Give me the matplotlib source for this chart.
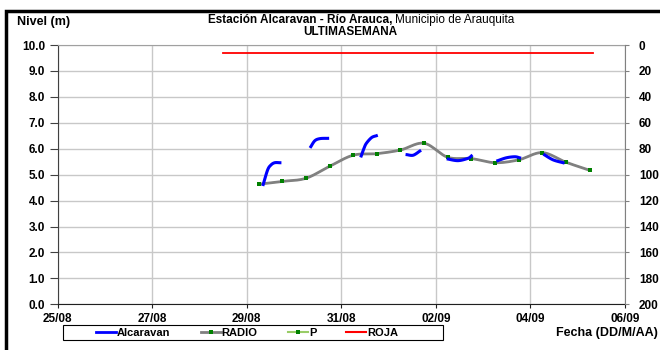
import numpy as np
import pandas as pd
import matplotlib
matplotlib.use("Agg")
import matplotlib.pyplot as plt
import matplotlib.dates as mdates
from matplotlib.lines import Line2D
from matplotlib.patches import Rectangle

plt.rcParams["font.family"] = ["Liberation Sans", "DejaVu Sans"]

# RADIO / P readings, every 12 h
RADIO_TIMES = pd.date_range("2011-08-29 06:00", periods=15, freq="12h")
RADIO_VALUES = [4.63, 4.74, 4.86, 5.32, 5.75, 5.81, 5.95, 6.21,
                5.67, 5.62, 5.46, 5.57, 5.85, 5.48, 5.17]
P_VALUES = RADIO_VALUES

# Alcaravan station: short pieces, None separates them
ALC_TIMES = [
    "2011-08-29 08:20", "2011-08-29 10:34", "2011-08-29 12:14", "2011-08-29 14:10", "2011-08-29 16:48", None,
    "2011-08-30 08:31", "2011-08-30 10:34", "2011-08-30 13:12", "2011-08-30 17:02", None,
    "2011-08-31 10:05", "2011-08-31 11:31", "2011-08-31 12:43", "2011-08-31 15:22", "2011-08-31 17:46", None,
    "2011-09-01 09:22", "2011-09-01 12:29", "2011-09-01 15:50", None,
    "2011-09-02 06:14", "2011-09-02 11:17", "2011-09-02 16:19", "2011-09-02 18:00", None,
    "2011-09-03 07:26", "2011-09-03 11:46", "2011-09-03 16:05", "2011-09-03 18:29", None,
    "2011-09-04 07:12", "2011-09-04 11:31", "2011-09-04 16:34",
]
ALC_VALUES = [
    4.62, 5.18, 5.37, 5.46, 5.46, None,
    6.08, 6.31, 6.39, 6.40, None,
    5.72, 6.02, 6.21, 6.43, 6.50, None,
    5.77, 5.75, 5.91, None,
    5.60, 5.54, 5.63, 5.72, None,
    5.54, 5.65, 5.69, 5.65, None,
    5.76, 5.57, 5.46,
]

# alert level (ROJA)
ROJA_TIMES = ["2011-08-28 12:00", "2011-09-05 08:00"]
ROJA_VALUES = [9.68, 9.68]

X_TICKS = pd.date_range("2011-08-25", "2011-09-06", freq="2D")
Y_TICKS = np.arange(0, 10.01, 1.0)
Y2_TICKS = np.arange(0, 201, 20)


def smooth(x, y, n=25):
    # Excel-like smoothed line (bezier through the points)
    pts = np.column_stack([x, y]).astype(float)
    if len(pts) < 3:
        return pts[:, 0], pts[:, 1]
    out = []
    for i in range(len(pts) - 1):
        p0 = pts[i - 1] if i > 0 else pts[i]
        p1, p2 = pts[i], pts[i + 1]
        p3 = pts[i + 2] if i + 2 < len(pts) else pts[i + 1]
        c1 = p1 + (p2 - p0) / 6
        c2 = p2 - (p3 - p1) / 6
        t = np.linspace(0, 1, n)[:, None]
        out.append((1 - t) ** 3 * p1 + 3 * (1 - t) ** 2 * t * c1
                   + 3 * (1 - t) * t ** 2 * c2 + t ** 3 * p2)
    out = np.vstack(out)
    return out[:, 0], out[:, 1]


def segments(times, values):
    seg_t, seg_v = [], []
    for t, v in zip(times, values):
        if t is None:
            yield seg_t, seg_v
            seg_t, seg_v = [], []
        else:
            seg_t.append(mdates.date2num(pd.Timestamp(t)))
            seg_v.append(v)
    if seg_t:
        yield seg_t, seg_v


fig = plt.figure(figsize=(6.6, 3.5), dpi=100)
ax = fig.add_axes([57.7 / 660, 1 - 304.3 / 350, (625 - 57.7) / 660, (304.3 - 45) / 350])

xr = mdates.date2num(RADIO_TIMES)
sx, sy = smooth(xr, P_VALUES)
ax.plot(sx, sy, color="#99cc66", lw=1, zorder=2)
sx, sy = smooth(xr, RADIO_VALUES)
ax.plot(sx, sy, color="#808080", lw=2, zorder=3)
ax.plot(xr, RADIO_VALUES, ls="none", marker="s", ms=3, mew=0, color="#008000", zorder=4)

for st, sv in segments(ALC_TIMES, ALC_VALUES):
    sx, sy = smooth(st, sv)
    ax.plot(sx, sy, color="#0000ff", lw=2.2, zorder=5)

ax.plot(mdates.date2num(pd.to_datetime(ROJA_TIMES)), ROJA_VALUES, color="#ff0000", lw=1.3, zorder=3)

ax.set_xlim(mdates.date2num(X_TICKS[0]), mdates.date2num(X_TICKS[-1]))
ax.set_ylim(0, 10)
ax.set_xticks(mdates.date2num(X_TICKS))
ax.set_xticklabels([d.strftime("%d/%m") for d in X_TICKS])
ax.set_yticks(Y_TICKS)
ax.set_yticklabels([f"{v:.1f}" for v in Y_TICKS])
ax.grid(True, color="#c8c8c8", lw=1)
ax.set_axisbelow(True)
ax.tick_params(axis="y", direction="out", length=5.5, labelsize=8.5, width=0.8,
               colors="#404040", labelcolor="black", pad=3.5)
ax.tick_params(axis="x", direction="out", length=3, labelsize=8.5, width=0.8,
               colors="#202020", labelcolor="black", pad=3.5)
for lab in ax.get_xticklabels() + ax.get_yticklabels():
    lab.set_fontweight("bold")
ax.spines["left"].set_color("#404040")
ax.spines["bottom"].set_color("#202020")
ax.spines["top"].set_color("#a0a0a0")
ax.spines["right"].set_visible(False)

ax2 = ax.twinx()
ax2.set_ylim(200, 0)
ax2.set_yticks(Y2_TICKS)
ax2.tick_params(direction="out", length=3, labelsize=8.5, width=0.8, colors="#808080",
                labelcolor="black", pad=7)
for lab in ax2.get_yticklabels():
    lab.set_fontweight("bold")
for s in ["left", "top", "bottom"]:
    ax2.spines[s].set_visible(False)
ax2.spines["right"].set_color("#808080")

# titles
fig.text(392 / 660, 1 - 20 / 350, "Estación Alcaravan - Río Arauca,", ha="right", va="center",
         fontsize=8.5, fontweight="bold")
fig.text(395 / 660, 1 - 20 / 350, "Municipio de Arauquita", ha="left", va="center", fontsize=8.5)
fig.text(350 / 660, 1 - 32 / 350, "ULTIMASEMANA", ha="center", va="center", fontsize=8.5, fontweight="bold")
fig.text(17 / 660, 1 - 22 / 350, "Nivel (m)", ha="left", va="center", fontsize=9, fontweight="bold")
fig.text(658 / 660, 1 - 333 / 350, "Fecha (DD/M/AA)", ha="right", va="center", fontsize=9, fontweight="bold")
fig.text(5 / 660, 1 - 4 / 350, "NIVELES:", ha="left", va="bottom", fontsize=16, fontweight="bold")

# outer frame of the original sheet
fig.patches.append(Rectangle((6 / 660, -0.2), 1.2, 1.2 - 11 / 350, transform=fig.transFigure,
                             fill=False, edgecolor="black", lw=2.5, clip_on=False))

# legend box drawn separately (wide padding like the original)
fig.patches.append(Rectangle((63 / 660, 1 - 340 / 350), 380 / 660, 15 / 350, transform=fig.transFigure,
                             fill=False, edgecolor="black", lw=0.8))
handles = [
    Line2D([], [], color="#0000ff", lw=2),
    Line2D([], [], color="#808080", lw=2, marker="s", ms=3, mew=0, mfc="#008000"),
    Line2D([], [], color="#99cc66", lw=1.5, marker="s", ms=3, mew=0, mfc="#008000"),
    Line2D([], [], color="#ff0000", lw=1.5),
]
fig.legend(handles, ["Alcaravan", "RADIO", "P", "ROJA"], ncol=4,
           loc="center left", bbox_to_anchor=(96 / 660, 1 - 332.5 / 350),
           prop={"weight": "bold", "size": 8}, frameon=False,
           handlelength=1.8, handletextpad=0.1, columnspacing=2.7, borderpad=0, borderaxespad=0)

fig.savefig("out.png", dpi=100)
